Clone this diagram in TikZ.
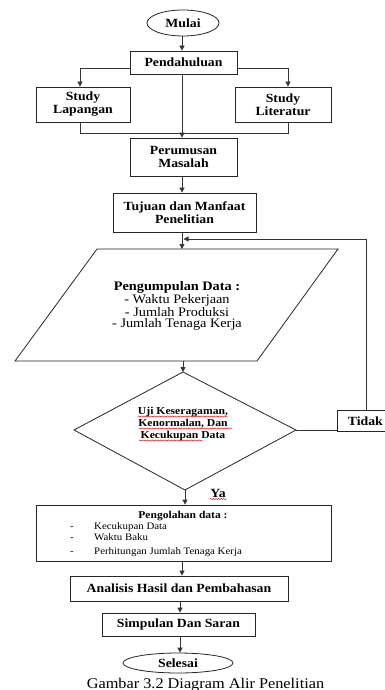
\documentclass[tikz,border=0pt]{standalone}
\usepackage{fontspec}
\setmainfont{Liberation Serif}[FakeStretch=1.1]
\usetikzlibrary{shapes.geometric,arrows.meta,calc,decorations.pathmorphing}
\tikzset{
  ln/.style={line width=0.8pt, draw=black!80},
  arr/.style={ln, -{Triangle[length=5pt,width=5pt]}},
  box/.style={draw=black!85, line width=0.8pt, fill=white, inner sep=0pt, align=center,
    font=\bfseries\fontsize{12.5}{13}\selectfont},
  term/.style={ellipse, draw=black!85, line width=0.8pt, fill=white, inner sep=0pt,
    font=\bfseries\fontsize{12.5}{13}\selectfont},
  shp/.style={draw=black!85, line width=0.8pt},
  squig/.style={draw=red!85!black, line width=0.4pt, decorate,
    decoration={snake, amplitude=0.6pt, segment length=2.6pt}},
}
\begin{document}
\begin{tikzpicture}[x=1pt,y=-1pt]
\clip (0,0) rectangle (385,690);
\fill[white] (0,0) rectangle (385,690);

% terminals and boxes
\node[term, minimum width=72pt, minimum height=26pt] (mulai) at (183,23) {Mulai};
\node[box, minimum width=107pt, minimum height=23pt] (pend) at (183.5,62.5) {Pendahuluan};
\node[box, minimum width=94pt, minimum height=35pt] (slap) at (83,104.5) {Study\\Lapangan};
\node[box, minimum width=96pt, minimum height=35pt] (slit) at (283,104.5) {Study\\Literatur};
\node[box, minimum width=107pt, minimum height=38pt] (perm) at (183.5,157) {Perumusan\\Masalah};
\node[box, minimum width=143pt, minimum height=39pt] (tuj) at (184.5,212.5) {Tujuan dan Manfaat\\Penelitian};

% parallelogram
\coordinate (pa) at (97,249);
\coordinate (pb) at (338,249);
\coordinate (pc) at (257,361);
\coordinate (pd) at (15,361);
\draw[shp] (pa) -- (pb) -- (pc) -- (pd) -- cycle;
\coordinate (ptop) at (182,249);
\coordinate (pbot) at (183,361);
\node[align=center, inner sep=0pt, font=\fontsize{13}{11.7}\selectfont] (ptext) at (177,306)
  {\textbf{Pengumpulan Data :}\\- Waktu Pekerjaan\\- Jumlah Produksi\\- Jumlah Tenaga Kerja};

% decision diamond
\coordinate (dtop) at (183,372);
\coordinate (dright) at (296,430);
\coordinate (dbot) at (185,490);
\coordinate (dleft) at (74,430);
\draw[shp] (dtop) -- (dright) -- (dbot) -- (dleft) -- cycle;
\node[align=center, inner sep=0pt, font=\bfseries\fontsize{10.6}{12}\selectfont] (dtext) at (183,424)
  {Uji Keseragaman,\\Kenormalan, Dan\\Kecukupan Data};
\draw[squig] (138,416.5) -- (228,416.5);
\draw[squig] (139,428.5) -- (232,428.5);
\draw[squig] (139,440.5) -- (203,440.5);

\node[box, minimum width=56pt, minimum height=21pt, anchor=north west] (tidak) at (337,410) {Tidak};
\node[inner sep=0pt, font=\bfseries\fontsize{12.5}{13}\selectfont] (ya) at (218,493) {Ya};
\draw[squig] (210,499) -- (227,499);

% processing box
\node[box, minimum width=295pt, minimum height=56pt] (peng) at (183.5,533) {};
\node[anchor=base, inner sep=0pt, font=\bfseries\fontsize{10.5}{12}\selectfont] (pt) at (183,518) {Pengolahan data :};
\node[anchor=base west, inner sep=0pt, font=\fontsize{9.9}{11}\selectfont] (d1) at (70,529) {-};
\node[anchor=base west, inner sep=0pt, font=\fontsize{9.9}{11}\selectfont] (k1) at (94,529) {Kecukupan Data};
\node[anchor=base west, inner sep=0pt, font=\fontsize{9.9}{11}\selectfont] (d2) at (70,540) {-};
\node[anchor=base west, inner sep=0pt, font=\fontsize{9.9}{11}\selectfont] (k2) at (94,540) {Waktu Baku};
\node[anchor=base west, inner sep=0pt, font=\fontsize{9.9}{11}\selectfont] (d3) at (70,554) {-};
\node[anchor=base west, inner sep=0pt, font=\fontsize{9.9}{11}\selectfont] (k3) at (94,554) {Perhitungan Jumlah Tenaga Kerja};

\node[box, minimum width=218pt, minimum height=25pt] (anal) at (179,588.5) {Analisis Hasil dan Pembahasan};
\node[box, minimum width=153pt, minimum height=23pt] (simp) at (178.5,624.5) {Simpulan Dan Saran};
\node[term, minimum width=110pt, minimum height=20pt] (sel) at (178,663) {Selesai};
\node[anchor=base, inner sep=0pt, font=\fontsize{14.8}{16}\selectfont] (cap) at (205.5,688) {Gambar 3.2 Diagram Alir Penelitian};

% connectors
\coordinate (join) at (182,133);
\coordinate (c2) at (180,600);
\draw[arr] (mulai.south -| join) -- (join |- pend.north);
\draw[arr] ([yshift=-6pt]pend.west) -| ([xshift=-3pt]slap.north);
\draw[arr] ([yshift=-6pt]pend.east) -| ([xshift=5pt]slit.north);
\draw[ln] ([xshift=-3pt]slap.south) |- (join);
\draw[ln] ([xshift=5pt]slit.south) |- (join);
\draw[arr] (pend.south -| join) -- (join |- perm.north);
\draw[arr] (perm.south -| join) -- (join |- tuj.north);
\draw[arr] (tuj.south -| join) -- (ptop);
\draw[arr] (pbot) -- (dtop);
\draw[arr] (dbot) -- (dbot |- peng.north);
\draw[ln] (dright) -- (dright -| tidak.west);
\coordinate (fbx) at (366,239);
\coordinate (fb) at (183.5,239);
\draw[arr] (tidak.north -| fbx) -- (fbx) -- (fb);
\draw[arr] (peng.south -| join) -- (join |- anal.north);
\draw[arr] (anal.south -| c2) -- (c2 |- simp.north);
\draw[arr] (simp.south -| c2) -- (c2 |- sel.north);
\end{tikzpicture}
\end{document}
